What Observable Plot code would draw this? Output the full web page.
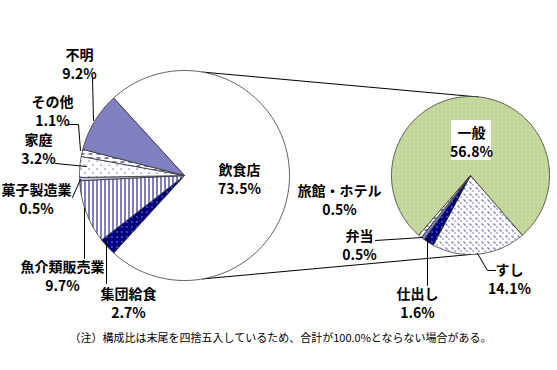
<!DOCTYPE html>
<html><head><meta charset="utf-8">
<script src="https://cdn.jsdelivr.net/npm/d3@7"></script>
<script src="https://cdn.jsdelivr.net/npm/@observablehq/plot@0.6"></script>
<style>body{margin:0;background:#fff} pattern rect{shape-rendering:crispEdges}</style>
</head><body><div id="chart"></div>
<script>
// ---- data ----
const leftNames = ["飲食店","集団給食","魚介類販売業","菓子製造業","家庭","その他","不明"];
const leftValues = [73.5, 2.7, 9.7, 0.5, 3.2, 1.1, 9.2];
const rightNames = ["一般","すし","仕出し","弁当","旅館・ホテル"];
const rightValues = [56.8, 14.1, 1.6, 0.5, 0.5];
const note = "（注）構成比は末尾を四捨五入しているため、合計が100.0%とならない場合がある。";

// ---- layout ----
const W = 557, H = 370;
const L = {cx:184, cy:175, r:105};
const R = {cx:470, cy:175, r:79};
const leftFills = ["white","url(#pDotNavy)","url(#pVert)","url(#pLight)","url(#pDots)","url(#pDash)","url(#pCheck)"];
const rightFills = ["url(#pGreen)","url(#pConfetti)","url(#pDotNavy)","url(#pCheck)","url(#pDash)"];
const leftLabelPos = [[239,178],[128,302],[62,275],[36,198],[38,148],[52,110],[79,63]];
const rightLabelPos = [[471,141],[509,278],[417,302],[359,244],[339,199]];
const leaders = [
  [[92,77],[93,120]],
  [[68,124],[78,124],[80,150]],
  [[55,163],[86,166]],
  [[72,197],[80,179]],
  [[84,208],[84,258]],
  [[106,240],[106,283]],
  [[477,253],[487,270],[495,270]],
  [[427,236],[427,285]],
  [[375,240],[422,237]]
];

function slicePoints(names, values, pie, start) {
  const arcs = d3.pie().sort(null).startAngle(start).endAngle(start + 2*Math.PI)(values);
  const pts = [];
  arcs.forEach((a, i) => {
    const n = Math.max(2, Math.ceil((a.endAngle - a.startAngle) / (Math.PI/180)));
    pts.push({key: names[i], x: pie.cx, y: pie.cy});
    for (let k = 0; k <= n; k++) {
      const t = a.startAngle + (a.endAngle - a.startAngle) * k / n;
      pts.push({key: names[i], x: pie.cx + pie.r*Math.sin(t), y: pie.cy - pie.r*Math.cos(t)});
    }
    pts.push({key: names[i], x: pie.cx, y: pie.cy});
  });
  return pts;
}
const leftTotal = d3.sum(leftValues), rightTotal = d3.sum(rightValues);
const leftStart = Math.PI/2 - (leftValues[0]/leftTotal)*Math.PI;
const rightStart = Math.PI + (1 - rightValues[0]/rightTotal)*Math.PI;
const pts = slicePoints(leftNames, leftValues, L, leftStart).concat(slicePoints(rightNames, rightValues, R, rightStart));

const deg = Math.PI/180;
const connectors = [
  {id:"top", x: L.cx + L.r*Math.sin(10*deg), y: L.cy - L.r*Math.cos(10*deg)},
  {id:"top", x: R.cx + 8, y: R.cy - R.r + 0.5},
  {id:"bot", x: L.cx + L.r*Math.sin(170*deg), y: L.cy - L.r*Math.cos(170*deg)},
  {id:"bot", x: R.cx, y: R.cy + R.r}
];
const leaderPts = leaders.flatMap((l, i) => l.map(([x,y]) => ({id:i, x, y})));
const labels = [
  ...leftNames.map((n,i) => ({text: `${n}\n${leftValues[i].toFixed(1)}%`, x: leftLabelPos[i][0], y: leftLabelPos[i][1]})),
  ...rightNames.map((n,i) => ({text: `${n}\n${rightValues[i].toFixed(1)}%`, x: rightLabelPos[i][0], y: rightLabelPos[i][1]}))
];
const boxed = [labels[leftNames.length]];

const font = "'Noto Sans CJK JP', 'Noto Sans', sans-serif";
const svg = Plot.plot({
  width: W, height: H,
  margin: 0,
  x: {domain: [0, W], range: [0, W], axis: null},
  y: {domain: [0, H], range: [0, H], axis: null},
  color: {type: "ordinal", domain: [...leftNames, ...rightNames], range: [...leftFills, ...rightFills]},
  style: {fontFamily: font, background: "white"},
  marks: [
    Plot.line(connectors, {x: "x", y: "y", z: "id", stroke: "#000", strokeWidth: 1}),
    Plot.line(pts, {x: "x", y: "y", z: "key", fill: "key", stroke: "#333", strokeWidth: 0.8, curve: "linear"}),
    Plot.line(leaderPts, {x: "x", y: "y", z: "id", stroke: "#000", strokeWidth: 1}),
    Plot.rect(boxed, {x1: d => d.x - 20, x2: d => d.x + 20, y1: d => d.y - 21, y2: d => d.y + 19, fill: "white"}),
    Plot.text(labels, {x: "x", y: "y", text: "text", fontSize: 14, fontWeight: "bold", lineHeight: 1.36, fill: "#000"}),
    Plot.text([note], {x: () => 280, y: () => 338, text: d => d, fontSize: 11, fill: "#000"})
  ]
});
d3.select(svg).insert("defs", ":first-child").html(`
  <pattern id="pDotNavy" width="5" height="5" patternUnits="userSpaceOnUse">
    <rect width="5" height="5" fill="#000080"/><rect x="1" y="1" width="1" height="1" fill="#fff"/>
  </pattern>
  <pattern id="pVert" width="4" height="4" patternUnits="userSpaceOnUse">
    <rect width="4" height="4" fill="#fff"/><rect x="0" y="0" width="1" height="4" fill="#000080"/>
  </pattern>
  <pattern id="pLight" width="2" height="2" patternUnits="userSpaceOnUse">
    <rect width="2" height="2" fill="#fff"/><rect x="0" y="0" width="1" height="1" fill="#000080"/>
  </pattern>
  <pattern id="pDots" width="8" height="8" patternUnits="userSpaceOnUse">
    <rect width="8" height="8" fill="#fff"/><rect x="0" y="0" width="1" height="1" fill="#000080"/><rect x="4" y="4" width="1" height="1" fill="#000080"/>
  </pattern>
  <pattern id="pDash" width="8" height="4" patternUnits="userSpaceOnUse">
    <rect width="8" height="4" fill="#fff"/><rect x="0" y="1" width="4" height="1" fill="#000080"/>
  </pattern>
  <pattern id="pCheck" width="2" height="2" patternUnits="userSpaceOnUse">
    <rect width="2" height="2" fill="#fff"/><rect x="0" y="0" width="1" height="1" fill="#000080"/><rect x="1" y="1" width="1" height="1" fill="#000080"/>
  </pattern>
  <pattern id="pConfetti" width="6" height="6" patternUnits="userSpaceOnUse">
    <rect width="6" height="6" fill="#fff"/><rect x="1" y="1" width="1" height="1" fill="#000080"/><rect x="2" y="2" width="1" height="1" fill="#000080"/><rect x="4" y="4" width="1" height="1" fill="#000080"/>
  </pattern>
  <pattern id="pGreen" width="4" height="4" patternUnits="userSpaceOnUse">
    <rect width="4" height="4" fill="#c4d79b"/><rect x="1" y="1" width="1" height="1" fill="#d6e6ae"/><rect x="3" y="3" width="1" height="1" fill="#b7cc93"/>
  </pattern>
`);
document.getElementById("chart").appendChild(svg);
</script>
</body></html>
